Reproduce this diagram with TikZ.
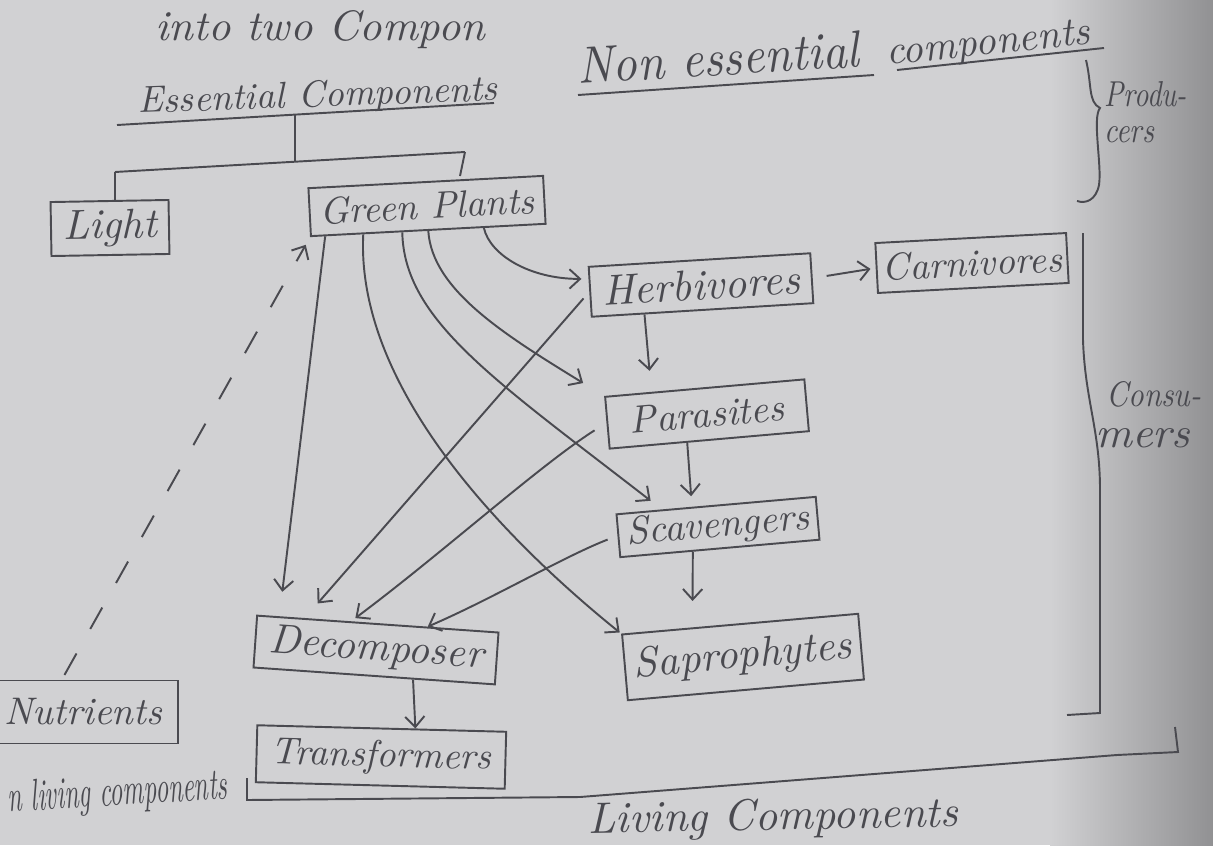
\documentclass[tikz,border=0pt]{standalone}
\usepackage{graphicx}
\usetikzlibrary{arrows.meta,calc}
\definecolor{paper}{RGB}{209,209,211}
\definecolor{paperdark}{RGB}{145,145,147}
\definecolor{ink}{RGB}{74,74,80}
\newcommand{\hw}[2]{\resizebox{#1}{!}{\itshape #2}}
\newcommand{\hwh}[3]{\resizebox{#1}{#2}{\itshape #3}}
\begin{document}
\begin{tikzpicture}[x=0.02cm,y=0.02cm,
  box/.style={draw=ink, line width=1.1pt, inner sep=0pt, text=ink},
  lbl/.style={text=ink, inner sep=0pt},
  ln/.style={draw=ink, line width=1.1pt},
  arr/.style={draw=ink, line width=1.1pt, -{Straight Barb[length=6pt,width=11pt]}}]
\useasboundingbox (0,0) rectangle (1213,-845);
\clip (0,0) rectangle (1213,-845);
\fill[paper] (0,0) rectangle (1213,-845);
\shade[left color=paper,right color=paperdark] (1050,0) rectangle (1213,-845);

% boxes
\node[box, minimum width=2.36cm, minimum height=1.08cm, rotate=1] (light) at (110,-228) {\hw{1.88cm}{Light}};
\node[box, minimum width=4.7cm, minimum height=0.96cm, rotate=3] (gp) at (427,-206) {\hw{4.3cm}{Green Plants}};
\node[box, minimum width=4.44cm, minimum height=1.0cm, rotate=3.5] (herb) at (701,-285) {\hw{3.96cm}{Herbivores}};
\node[box, minimum width=3.82cm, minimum height=1.0cm, rotate=3] (carn) at (972,-263) {\hw{3.6cm}{Carnivores}};
\node[box, minimum width=4.0cm, minimum height=1.04cm, rotate=5] (para) at (707,-414) {\hw{3.1cm}{Parasites}};
\node[box, minimum width=4.0cm, minimum height=0.86cm, rotate=5] (scav) at (718,-527) {\hw{3.68cm}{Scavengers}};
\node[box, minimum width=4.74cm, minimum height=1.32cm, rotate=5] (sap) at (743,-657) {\hw{4.38cm}{Saprophytes}};
\node[box, minimum width=4.84cm, minimum height=1.04cm, rotate=-4] (dec) at (376,-650) {\hw{4.3cm}{Decomposer}};
\node[box, minimum width=4.98cm, minimum height=1.14cm, rotate=-1.5] (trans) at (381,-757) {\hw{4.42cm}{Transformers}};
\node[box, minimum width=3.8cm, minimum height=1.26cm] (nut) at (83,-712) {\hw{3.16cm}{Nutrients}};

% free texts
\node[lbl, anchor=base west] (toptext) at (155,-40) {\hwh{6.6cm}{0.6cm}{into two Compon}};
\node[lbl, anchor=base west, rotate=2] (ess) at (138,-113) {\hw{7.2cm}{Essential Components}};
\node[lbl, anchor=base west, rotate=3.5] (non) at (578,-84) {\hwh{5.64cm}{0.72cm}{Non essential}};
\node[lbl, anchor=base west, rotate=6] (comp) at (887,-65) {\hw{4.1cm}{components}};
\node[lbl, anchor=base west] (prod) at (1104,-106) {\hwh{1.65cm}{0.5cm}{Produ-}};
\node[lbl, anchor=base west] (cers) at (1104,-142) {\hwh{1.0cm}{0.32cm}{cers}};
\node[lbl, anchor=base west] (cons) at (1106,-406) {\hwh{1.9cm}{0.5cm}{Consu-}};
\node[lbl, anchor=base west] (mers) at (1095,-447) {\hwh{1.9cm}{0.38cm}{mers}};
\node[lbl, anchor=base west, rotate=3.5] (nliv) at (8,-812) {\hwh{4.4cm}{0.62cm}{n living components}};
\node[lbl, anchor=base west, rotate=1] (liv) at (588,-833) {\hw{7.4cm}{Living Components}};

% underlines and tree
\draw[ln] (117,-125) -- (494,-103);
\draw[ln] (578,-95) -- (874,-75);
\draw[ln] (897,-70) -- (1104,-48);
\coordinate (essm) at (295,-115);
\coordinate (jn) at (295,-162);
\coordinate (jl) at (115,-172);
\coordinate (jr) at (465,-152);
\coordinate (jrend) at (460,-176);
\draw[ln] (essm) -- (jn);
\draw[ln] (jl) -- (jr);
\draw[ln] (jl) -- (jl |- light.north);
\draw[ln] (jr) -- (jrend);

% braces
\draw[ln] (1086,-60) .. controls (1092,-85) and (1088,-102) .. (1100,-108) .. controls (1092,-118) and (1102,-165) .. (1099,-185) .. controls (1096,-200) and (1086,-204) .. (1077,-201);
\draw[ln] (1083,-233) -- (1083,-340) .. controls (1085,-400) and (1100,-430) .. (1100,-490) -- (1100,-713) -- (1067,-715);
\draw[ln] (247,-778) -- (247,-800) -- (580,-797) -- (1117,-755) -- (1178,-752) -- (1175,-727);

% arrows from green plants
\coordinate (gpA) at ($(gp.south west)!0.064!(gp.south east)$);
\coordinate (gpB) at ($(gp.south west)!0.225!(gp.south east)$);
\coordinate (gpC) at ($(gp.south west)!0.39!(gp.south east)$);
\coordinate (gpD) at ($(gp.south west)!0.50!(gp.south east)$);
\coordinate (gpE) at ($(gp.south west)!0.735!(gp.south east)$);
\draw[arr, shorten >=14pt] (gpA) -- ($(dec.north west)!0.095!(dec.north east)$);
\draw[arr, shorten >=1pt] (gpB) .. controls (355,-400) and (530,-560) .. (sap.north west);
\draw[arr, shorten >=8pt] (gpC) .. controls (404,-320) and (495,-380) .. ($(scav.north west)!0.23!(scav.north east)$);
\draw[arr, shorten >=14pt] (gpD) .. controls (432,-290) and (505,-335) .. (para.north west);
\draw[arr, shorten >=4pt] (gpE) .. controls (490,-255) and (530,-279) .. ($(herb.north west)!0.25!(herb.south west)$);

% arrows to decomposer
\draw[arr, shorten <=5pt, shorten >=11pt] (herb.west) -- ($(dec.north west)!0.20!(dec.north east)$);
\draw[arr, shorten <=8pt, shorten >=3pt] (para.west) .. controls (540,-465) and (440,-555) .. ($(dec.north west)!0.39!(dec.north east)$);
\draw[arr, shorten <=6pt] (scav.west) .. controls (565,-556) and (490,-600) .. ($(dec.north west)!0.705!(dec.north east)$);

% chain arrows
\draw[arr, shorten >=12pt] ($(herb.south west)!0.24!(herb.south east)$) -- ($(para.north west)!0.235!(para.north east)$);
\draw[arr, shorten >=6pt] ($(para.south west)!0.39!(para.south east)$) -- ($(scav.north west)!0.38!(scav.north east)$);
\draw[arr, shorten >=15pt] ($(scav.south west)!0.365!(scav.south east)$) -- ($(sap.north west)!0.30!(sap.north east)$);
\draw[arr] ($(dec.south west)!0.66!(dec.south east)$) -- ($(trans.north west)!0.634!(trans.north east)$);
\draw[arr, shorten <=8pt, shorten >=3pt] (herb.east) -- (carn.west);

% dashed nutrients arrow
\draw[arr, dash pattern=on 14pt off 16pt, shorten <=3pt, shorten >=5pt] ($(nut.north west)!0.39!(nut.north east)$) -- (gp.south west);
\end{tikzpicture}
\end{document}
